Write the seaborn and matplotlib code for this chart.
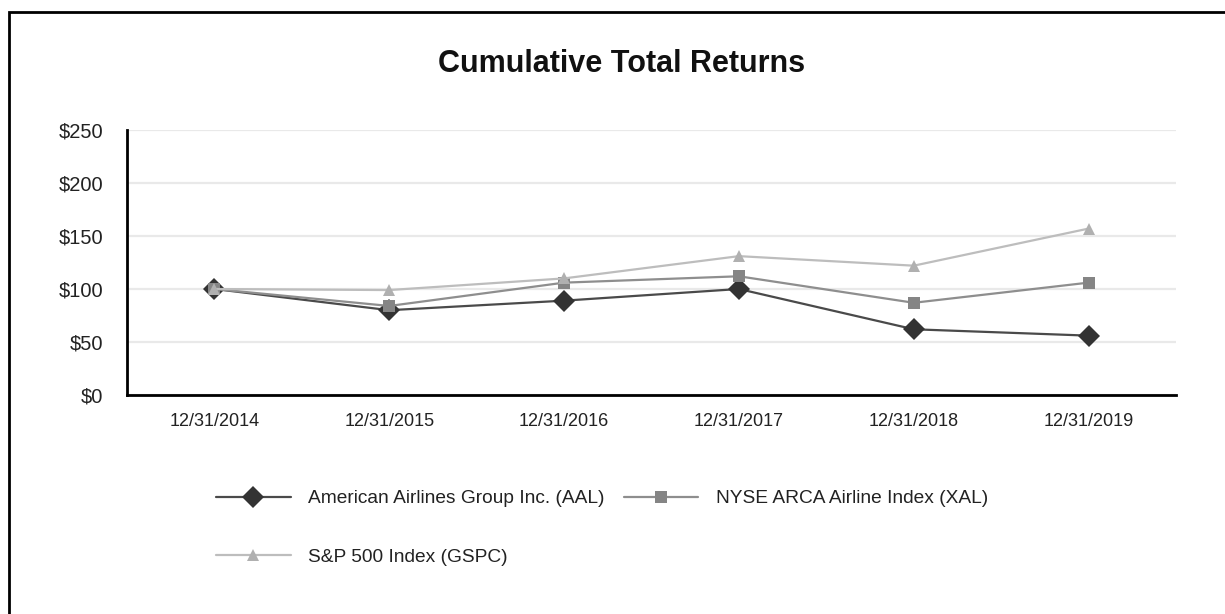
import matplotlib
matplotlib.use("Agg")
import matplotlib.pyplot as plt
import seaborn as sns
from matplotlib.patches import Rectangle

# dados
datas = ["12/31/2014", "12/31/2015", "12/31/2016", "12/31/2017", "12/31/2018", "12/31/2019"]
aal = [100, 80, 89, 100, 62, 56]
xal = [100, 84, 106, 112, 87, 106]
gspc = [100, 99, 110, 131, 122, 157]
nomes = ["American Airlines Group Inc. (AAL)", "NYSE ARCA Airline Index (XAL)", "S&P 500 Index (GSPC)"]

sns.set_style("white")
plt.rcParams["font.family"] = ["Liberation Sans", "DejaVu Sans"]

fig = plt.figure(figsize=(12.25, 6.14), dpi=100)
ax = fig.add_axes([127 / 1225, 1 - 395 / 614, (1176 - 127) / 1225, (395 - 130) / 614])

# (valores, nome, cor da linha, cor do marcador, marcador, tamanho)
estilos = [
    (aal, nomes[0], "#4a4a4a", "#333333", "D", 11),
    (xal, nomes[1], "#8e8e8e", "#858585", "s", 8.5),
    (gspc, nomes[2], "#bdbdbd", "#b0b0b0", "^", 8.5),
]
for valores, nome, cor, cor_m, m, ms in estilos:
    sns.lineplot(x=datas, y=valores, ax=ax, color=cor, linewidth=1.6,
                 marker=m, markersize=ms, markerfacecolor=cor_m,
                 markeredgewidth=0, label=nome, sort=False)

ax.set_xlim(-0.5, len(datas) - 0.5)
ax.set_ylim(0, 250)
ax.set_yticks([0, 50, 100, 150, 200, 250])
ax.set_yticklabels(["$0", "$50", "$100", "$150", "$200", "$250"])
ax.yaxis.grid(True, color="#e9e9e9", linewidth=1.6)
ax.set_axisbelow(True)
ax.tick_params(axis="both", length=0, colors="#222222")
ax.tick_params(axis="x", pad=13, labelsize=13)
ax.tick_params(axis="y", pad=17, labelsize=14.5)
for s in ["top", "right"]:
    ax.spines[s].set_visible(False)
for s in ["left", "bottom"]:
    ax.spines[s].set_color("black")
    ax.spines[s].set_linewidth(2)

fig.text(622 / 1225, 1 - 64 / 614, "Cumulative Total Returns", ha="center", va="center",
         fontsize=22, fontweight="bold", color="#111111")

ax.get_legend().remove()
handles, labels = ax.get_legend_handles_labels()
# ordem para preencher linha a linha com ncol=2
ordem = [0, 2, 1]
leg = fig.legend([handles[i] for i in ordem], [labels[i] for i in ordem],
                 loc="upper left", bbox_to_anchor=(216 / 1225, 1 - 490 / 614),
                 ncol=2, frameon=False, fontsize=13.8, handlelength=3.9,
                 columnspacing=1.0, labelspacing=2.15, handletextpad=0.9,
                 borderpad=0, borderaxespad=0)
for t in leg.get_texts():
    t.set_color("#222222")

# moldura externa
fig.patches.append(Rectangle((9 / 1225, -0.05), 1.1, 1 - 12 / 614 + 0.05,
                             transform=fig.transFigure, fill=False,
                             edgecolor="black", linewidth=2))

plt.savefig("out.png", dpi=100)
